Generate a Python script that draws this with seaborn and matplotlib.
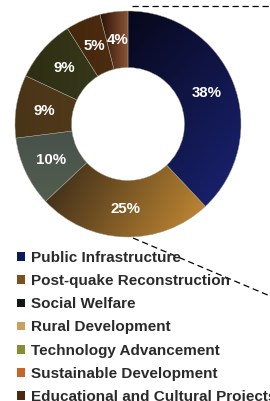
import numpy as np
import matplotlib
matplotlib.use('Agg')
import matplotlib.pyplot as plt
import seaborn as sns
from matplotlib.patches import Patch
from matplotlib.lines import Line2D
from matplotlib.colors import LinearSegmentedColormap

# Data
categories = ['Public Infrastructure', 'Post-quake Reconstruction', 'Social Welfare',
              'Rural Development', 'Technology Advancement', 'Sustainable Development',
              'Educational and Cultural Projects']
shares = [38, 25, 10, 9, 9, 5, 4]

# slice gradient colours (start -> end) and direction in degrees
slice_start = ['#07081a', '#45321a', '#46504a', '#4a3418', '#2e2e14', '#45270c', '#2a1206']
slice_end = ['#18206a', '#bb8432', '#535e50', '#563e1c', '#3a3a1c', '#4e2e12', '#8a5434']
grad_dir = [-40, -30, -90, 0, 0, 0, 0]
legend_colors = ['#0b1a5c', '#7a5222', '#0e1a10', '#c9a05c', '#8a8c34', '#c8642a', '#4a2a12']

sns.set_theme(style='white')
plt.rcParams['font.family'] = ['Liberation Sans', 'DejaVu Sans']

fig = plt.figure(figsize=(2.70, 4.01), dpi=100)
ax = fig.add_axes([15 / 270, 1 - 237 / 401, 226 / 270, 226 / 401])

wedges, _, autotexts = ax.pie(shares, colors=slice_end, startangle=90, counterclock=False,
                              autopct='%.0f%%', pctdistance=0.75,
                              wedgeprops=dict(width=0.5, edgecolor='none'),
                              textprops=dict(color='white', fontsize=10.8, fontweight='bold'))

# gradient fill clipped to each wedge
xx, yy = np.meshgrid(np.linspace(-1, 1, 300), np.linspace(-1, 1, 300))
for w, c0, c1, d in zip(wedges, slice_start, slice_end, grad_dir):
    th = np.deg2rad(d)
    t = xx * np.cos(th) + yy * np.sin(th)
    verts = w.get_path().vertices
    proj = verts[:, 0] * np.cos(th) + verts[:, 1] * np.sin(th)
    t = np.clip((t - proj.min()) / (proj.max() - proj.min() + 1e-9), 0, 1)
    cmap = LinearSegmentedColormap.from_list('g', [c0, c1])
    im = ax.imshow(t, extent=(-1, 1, -1, 1), origin='lower', cmap=cmap, zorder=1.5)
    im.set_clip_path(w)
    w.set_facecolor('none')
    w.set_edgecolor('#9a9a8a')
    w.set_linewidth(0.3)
    w.set_zorder(2)

for t in autotexts:
    t.set_zorder(4)

ax.set_xlim(-1, 1)
ax.set_ylim(-1, 1)
ax.set_aspect('equal')
ax.axis('off')

# dashed connector lines
fig.add_artist(Line2D([132 / 270, 1.0], [1 - 6 / 401, 1 - 6 / 401], transform=fig.transFigure,
                      color='black', lw=0.9, ls=(0, (5, 3))))
fig.add_artist(Line2D([133 / 270, 1.0], [1 - 238 / 401, 1 - 296 / 401], transform=fig.transFigure,
                      color='black', lw=0.9, ls=(0, (5, 3))))

handles = [Patch(facecolor=c, edgecolor='none', label=lab) for c, lab in zip(legend_colors, categories)]
fig.legend(handles=handles, loc='upper left', bbox_to_anchor=(17 / 270, 1 - 251 / 401),
           frameon=False, borderpad=0, borderaxespad=0, handlelength=0.5, handleheight=0.5,
           handletextpad=0.4, labelspacing=0.6,
           prop=dict(family='Liberation Sans', weight='bold', size=11), labelcolor='#2a2a2a')

fig.savefig('out.png', dpi=100)
